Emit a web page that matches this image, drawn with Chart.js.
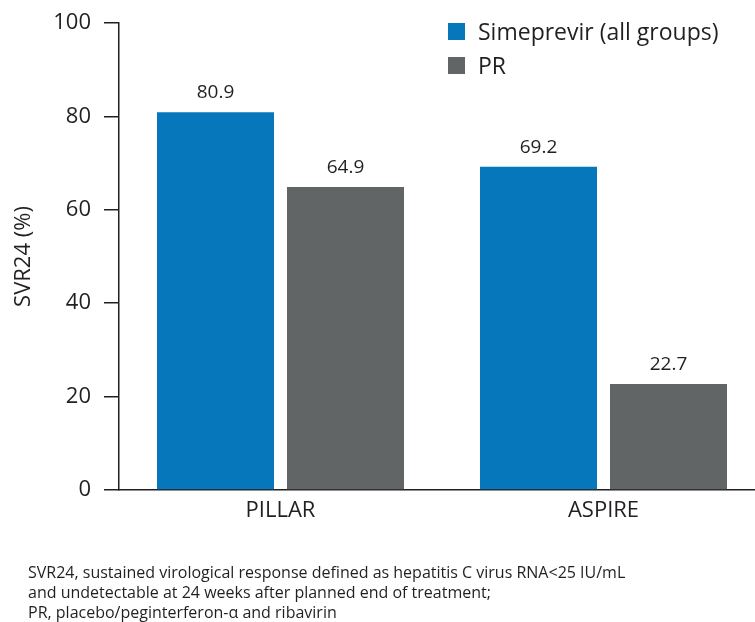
<!DOCTYPE html>
<html>
<head>
<meta charset="utf-8">
<script src="https://cdn.jsdelivr.net/npm/chart.js@4.4.1/dist/chart.umd.min.js"></script>
<style>
  html, body { margin: 0; padding: 0; background: #fff; }
  #wrap { position: relative; width: 755px; height: 622px; font-family: "Open Sans", sans-serif; color: #231f20; overflow: hidden; }
  #chart { position: absolute; left: 0; top: 0; }
  #legend { position: absolute; left: 448px; top: 14px; font-size: 23px; }
  #legend div { height: 34px; display: flex; align-items: center; }
  #legend span.box { display: inline-block; width: 17px; height: 17px; margin-right: 13px; }
  #note { position: absolute; left: 28px; top: 562px; font-size: 16px; line-height: 20px; white-space: nowrap; }
</style>
</head>
<body>
<div id="wrap">
  <!-- canvas is a bit wider than the page: the plot runs past the right edge -->
  <canvas id="chart" width="765" height="622"></canvas>
  <div id="legend"></div>
  <div id="note">SVR24, sustained virological response defined as hepatitis C virus RNA&lt;25 IU/mL<br>and undetectable at 24 weeks after planned end of treatment;<br>PR, placebo/peginterferon-α and ribavirin</div>
</div>
<script>
// data
var categories = ["PILLAR", "ASPIRE"];
var seriesNames = ["Simeprevir (all groups)", "PR"];
var simeprevir = [80.9, 69.2];
var pr = [64.9, 22.7];
var yTicks = [0, 20, 40, 60, 80, 100];

var colors = ["#0577ba", "#626566"];
var ink = "#231f20";
var font = "'Open Sans', sans-serif";

// legend as html
var leg = document.getElementById("legend");
seriesNames.forEach(function (name, i) {
    var row = document.createElement("div");
    row.innerHTML = '<span class="box" style="background:' + colors[i] + '"></span>' + name;
    leg.appendChild(row);
});

// labels above the bars
var valueLabels = {
    id: "valueLabels",
    afterDatasetsDraw: function (chart) {
        var ctx = chart.ctx;
        ctx.save();
        ctx.fillStyle = ink;
        ctx.font = "19px " + font;
        ctx.textAlign = "center";
        ctx.textBaseline = "alphabetic";
        chart.data.datasets.forEach(function (ds, di) {
            chart.getDatasetMeta(di).data.forEach(function (bar, i) {
                ctx.fillText(ds.data[i].toFixed(1), bar.x, bar.y - 14);
            });
        });
        ctx.restore();
    }
};

new Chart(document.getElementById("chart"), {
    type: "bar",
    data: {
        labels: categories,
        datasets: [
            { label: seriesNames[0], data: simeprevir, backgroundColor: colors[0] },
            { label: seriesNames[1], data: pr, backgroundColor: colors[1] }
        ]
    },
    options: {
        responsive: false,
        animation: false,
        events: [],
        layout: { padding: { top: 23, right: 0, left: 0, bottom: 0 } },
        datasets: { bar: { barPercentage: 0.9, categoryPercentage: 0.805 } },
        plugins: { legend: { display: false }, tooltip: { enabled: false } },
        scales: {
            x: {
                grid: { display: false },
                border: { display: true, color: ink, width: 1.5 },
                ticks: { color: ink, font: { family: font, size: 22 }, padding: 0 },
                afterFit: function (s) { s.height = 132; }
            },
            y: {
                min: 0, max: 100,
                afterBuildTicks: function (s) { s.ticks = yTicks.map(function (v) { return { value: v }; }); },
                grid: { drawOnChartArea: false, drawTicks: true, tickLength: 15, color: ink, lineWidth: 1.5 },
                border: { display: true, color: ink, width: 1.5 },
                ticks: { color: ink, font: { family: font, size: 22 }, padding: 13 },
                title: { display: true, text: "SVR24 (%)", color: ink, font: { family: font, size: 22 }, padding: { top: 11, bottom: 0 } },
                afterFit: function (s) {
                    s.width = 119;
                    s.paddingTop = 0;
                    s.paddingBottom = 0;
                }
            }
        }
    },
    plugins: [valueLabels]
});
</script>
</body>
</html>
